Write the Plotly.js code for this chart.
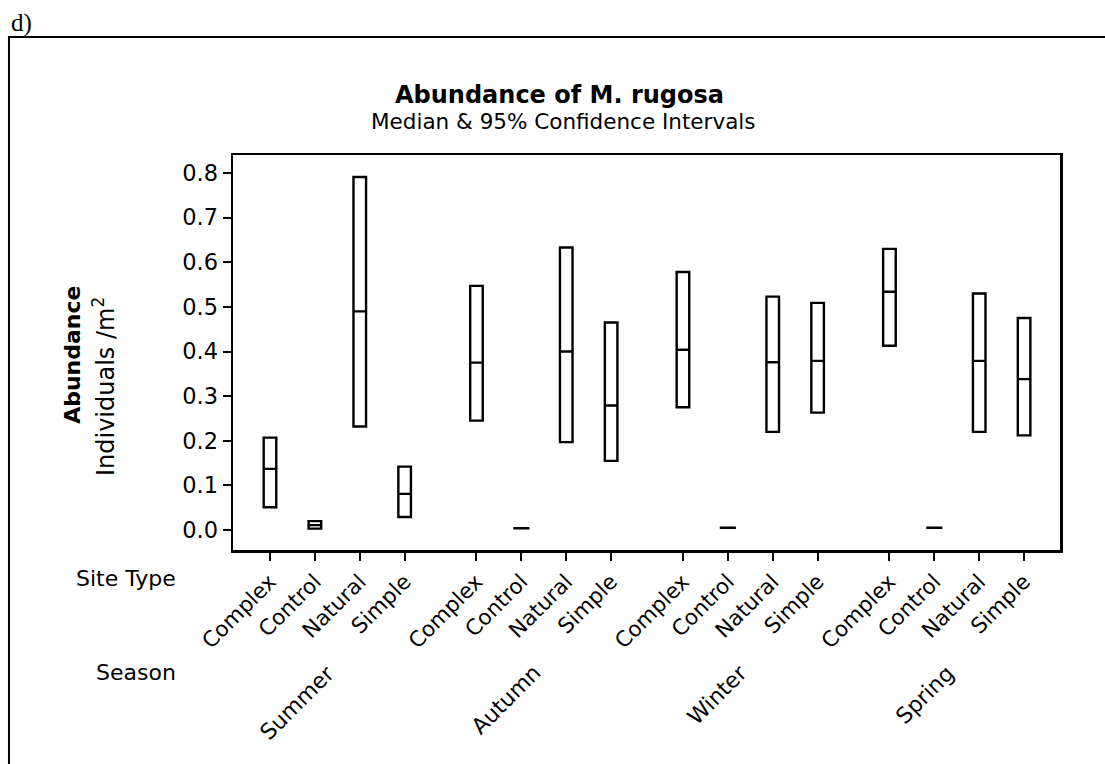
<!DOCTYPE html>
<html>
<head>
<meta charset="utf-8">
<script src="https://cdn.plot.ly/plotly-3.0.1.min.js"></script>
<style>html,body{margin:0;padding:0;background:#fff;}#chart{width:1105px;height:764px;}</style>
</head>
<body>
<div id="chart"></div>
<script>
// ---- data ----
var seasons = ['Summer', 'Autumn', 'Winter', 'Spring'];
var siteTypes = ['Complex', 'Control', 'Natural', 'Simple'];
// order: season-major, site type within season
var ciLower = [0.051, 0.003, 0.232, 0.029,
               0.245, 0.004, 0.197, 0.155,
               0.275, 0.005, 0.220, 0.263,
               0.413, 0.005, 0.220, 0.212];
var medians = [0.137, 0.011, 0.490, 0.081,
               0.375, 0.004, 0.400, 0.279,
               0.404, 0.005, 0.376, 0.379,
               0.534, 0.005, 0.379, 0.338];
var ciUpper = [0.207, 0.020, 0.791, 0.142,
               0.547, 0.004, 0.633, 0.465,
               0.578, 0.005, 0.523, 0.509,
               0.630, 0.005, 0.530, 0.475];
var yTicks = [0.0, 0.1, 0.2, 0.3, 0.4, 0.5, 0.6, 0.7, 0.8];

// ---- layout helpers ----
var GROUP_STEP = 4.6;
var FONT = 'DejaVu Sans, Verdana, sans-serif';

var pos = [], tickText = [];
seasons.forEach(function (s, g) {
  siteTypes.forEach(function (t, i) {
    pos.push(g * GROUP_STEP + i);
    tickText.push(t);
  });
});

function pick(arr, cond) {
  var out = [];
  arr.forEach(function (v, k) { if (cond(k)) out.push(v); });
  return out;
}
var isDash = function (k) { return ciLower[k] === ciUpper[k]; };
var isBox = function (k) { return ciLower[k] !== ciUpper[k]; };

function boxTrace(cond, w) {
  var lo = pick(ciLower, cond), hi = pick(ciUpper, cond);
  return {
    type: 'box',
    x: pick(pos, cond),
    q1: lo, median: pick(medians, cond), q3: hi,
    lowerfence: lo, upperfence: hi,
    width: w,
    boxpoints: false,
    fillcolor: '#ffffff',
    line: { color: '#000000', width: 2.4 },
    whiskerwidth: 0,
    showlegend: false,
    hoverinfo: 'skip'
  };
}

var traces = [boxTrace(isBox, 0.28), boxTrace(isDash, 0.36)];

var annotations = [
  { text: '<b>Abundance of M. rugosa</b>', xref: 'paper', yref: 'paper', x: 0.395, y: 1.152,
    xanchor: 'center', yanchor: 'middle', showarrow: false, font: { family: FONT, size: 24, color: '#000' } },
  { text: 'Median &amp; 95% Confidence Intervals', xref: 'paper', yref: 'paper', x: 0.400, y: 1.084,
    xanchor: 'center', yanchor: 'middle', showarrow: false, font: { family: FONT, size: 21.5, color: '#000' } },
  { text: '<b>Abundance</b>', xref: 'paper', yref: 'paper', x: -0.1935, y: 0.494, textangle: -90,
    xanchor: 'center', yanchor: 'middle', showarrow: false, font: { family: FONT, size: 22, color: '#000' } },
  { text: 'Individuals /m<sup>2</sup>', xref: 'paper', yref: 'paper', x: -0.156, y: 0.415, textangle: -90,
    xanchor: 'center', yanchor: 'middle', showarrow: false, font: { family: FONT, size: 24, color: '#000' } },
  { text: 'Site Type', xref: 'paper', yref: 'paper', x: -0.0665, y: -0.071,
    xanchor: 'right', yanchor: 'middle', showarrow: false, font: { family: FONT, size: 22, color: '#000' } },
  { text: 'Season', xref: 'paper', yref: 'paper', x: -0.0665, y: -0.311,
    xanchor: 'right', yanchor: 'middle', showarrow: false, font: { family: FONT, size: 22, color: '#000' } },
  { text: 'd)', xref: 'paper', yref: 'paper', x: -0.2709, y: 1.335,
    xanchor: 'left', yanchor: 'middle', showarrow: false, font: { family: 'Liberation Serif, Times New Roman, serif', size: 25, color: '#000' } }
];
seasons.forEach(function (s, g) {
  annotations.push({
    text: s, xref: 'x', yref: 'paper', x: g * GROUP_STEP + 1.5, y: -0.272, xshift: 5,
    textangle: -45, xanchor: 'right', yanchor: 'top', showarrow: false,
    font: { family: FONT, size: 22, color: '#000' }
  });
});

var layout = {
  width: 1105, height: 764,
  margin: { l: 233, r: 45, t: 155, b: 214 },
  paper_bgcolor: '#ffffff', plot_bgcolor: '#ffffff',
  showlegend: false,
  font: { family: FONT, color: '#000' },
  xaxis: {
    range: [-0.824, 17.60],
    tickmode: 'array', tickvals: pos, ticktext: tickText,
    tickangle: -45, ticks: 'outside', ticklen: 8, tickwidth: 2, tickcolor: '#000',
    tickfont: { family: FONT, size: 21.5, color: '#000' },
    showgrid: false, zeroline: false,
    showline: true, linecolor: '#000', linewidth: 2.5, mirror: true
  },
  yaxis: {
    range: [-0.0448, 0.8403],
    tickmode: 'array', tickvals: yTicks, ticktext: yTicks.map(function (v) { return v.toFixed(1); }),
    ticks: 'outside', ticklen: 8, tickwidth: 2, tickcolor: '#000',
    tickfont: { family: FONT, size: 22.5, color: '#000' },
    showgrid: false, zeroline: false,
    showline: true, linecolor: '#000', linewidth: 2.5, mirror: true
  },
  shapes: [
    { type: 'path', xref: 'paper', yref: 'paper',
      path: 'M 1.2,1.2987 L -0.2709,1.2987 L -0.2709,-0.7',
      line: { color: '#000', width: 2 } }
  ],
  annotations: annotations
};

Plotly.newPlot('chart', traces, layout, { displayModeBar: false, staticPlot: true });
</script>
</body>
</html>
